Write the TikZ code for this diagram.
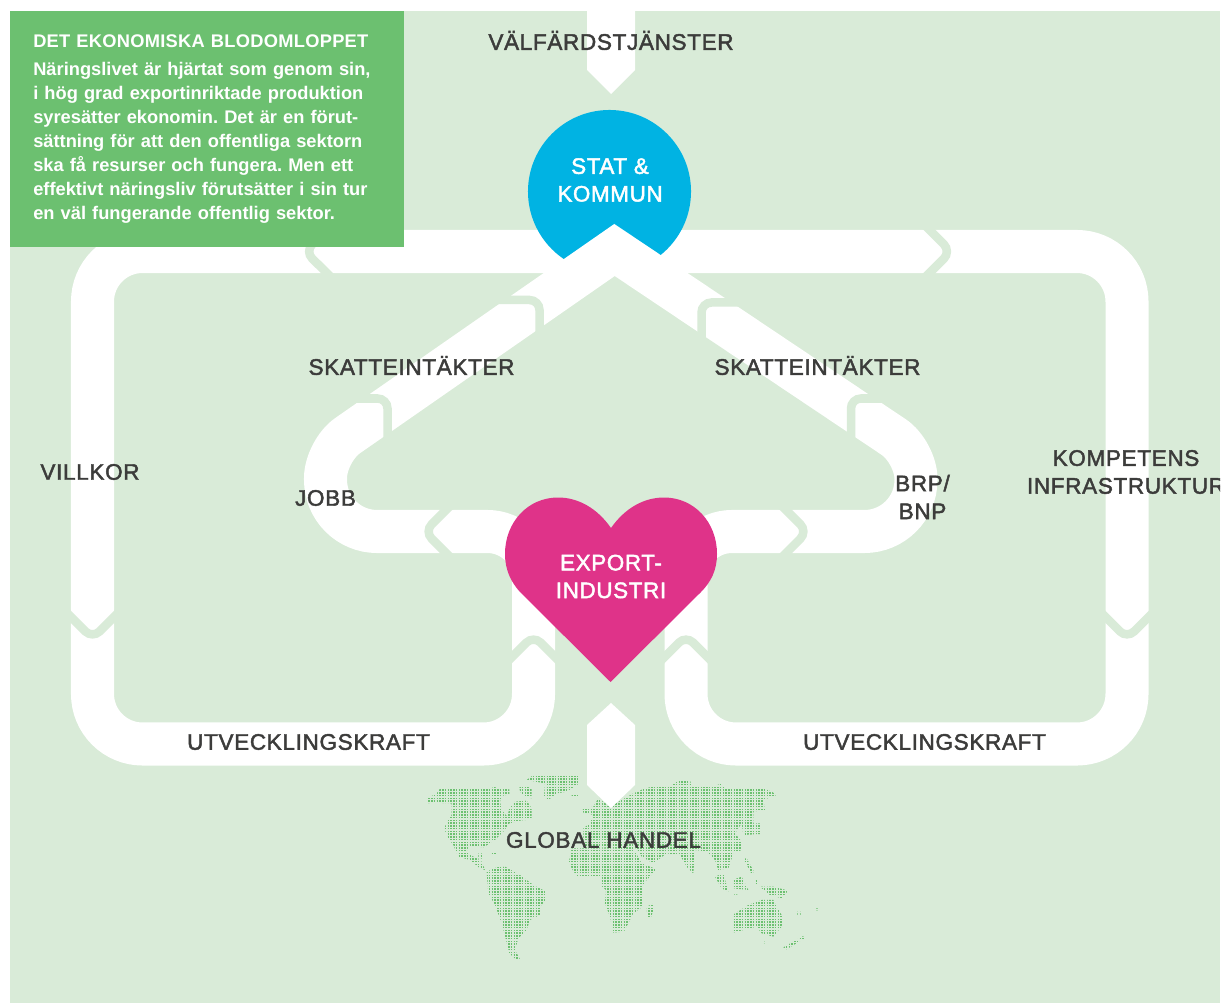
\documentclass[tikz,border=0pt]{standalone}
\usepackage{fontspec}
\setmainfont{Liberation Sans}
\newfontfamily\labelfont[FakeBold=2,LetterSpace=3]{Liberation Sans}
\newfontfamily\titlefont[LetterSpace=1.5]{Liberation Sans}
\definecolor{paleback}{HTML}{D9EBD8}
\definecolor{boxgreen}{HTML}{6CC070}
\definecolor{statblue}{HTML}{00B3E3}
\definecolor{heartpink}{HTML}{DF3389}
\definecolor{labelgray}{HTML}{3C3C3B}
\tikzset{
  band/.style={draw=white,line width=1.075cm,line join=miter},
  gap/.style={draw=paleback,line width=0.2125cm,rounded corners=0.25cm},
  tip/.style={fill=white},
  flowlabel/.style={text=labelgray,font=\labelfont\fontsize{16}{19.8}\selectfont,align=center,inner sep=0pt},
  hublabel/.style={text=white,font=\labelfont\fontsize{15.9}{19.7}\selectfont,align=center,inner sep=0pt},
  infobox/.style={fill=boxgreen,text=white,font=\bfseries\fontsize{13}{17.07}\selectfont,align=left,
    text width=8.7cm,inner xsep=0.575cm,inner ysep=0pt,minimum height=5.9cm},
  mapdots/.style={draw=boxgreen,line width=0.0375cm,dash pattern=on 0.0375cm off 0.03125cm}
}
\begin{document}
\frenchspacing
\begin{tikzpicture}[x=0.025cm,y=-0.025cm]
    \useasboundingbox (0,0) rectangle (1228,1003) ;
    \fill [white] (0,0) rectangle (1228,1003) ;
    \fill [paleback] (10,11) rectangle (1220,1003) ;
    % world map
    \begin{scope}
      \clip [shift={(420,760)},scale=0.3333]
        (22,115) -- (50,100) -- (60,86) -- (215,86) -- (222,78) -- (230,85) -- (268,88) -- (268,103) -- (245,108) -- (240,125) -- (245,150) -- (262,170) -- (268,145) -- (285,125) -- (320,122) -- (335,145) -- (335,178) -- (300,182) -- (268,190) -- (250,215) -- (225,240) -- (210,250) -- (190,262) -- (150,258) -- (140,270) -- (150,285) -- (170,295) -- (185,305) -- (195,330) -- (180,325) -- (150,300) -- (115,290) -- (100,255) -- (85,235) -- (72,205) -- (85,180) -- (95,165) -- (95,130) -- (40,128) -- (22,130) -- cycle
        (320,60) -- (340,45) -- (478,42) -- (478,70) -- (440,95) -- (410,100) -- (385,120) -- (372,112) -- (375,70) -- (330,62) -- cycle
        (298,78) -- (320,78) -- (335,88) -- (335,115) -- (315,110) -- (300,95) -- cycle
        (455,103) -- (478,103) -- (478,108) -- (455,108) -- cycle
        (212,278) -- (230,278) -- (230,283) -- (212,283) -- cycle
        (175,280) -- (188,280) -- (188,296) -- (175,296) -- cycle
        (200,335) -- (230,322) -- (255,320) -- (300,345) -- (340,375) -- (378,395) -- (378,420) -- (360,440) -- (360,465) -- (330,480) -- (320,510) -- (295,535) -- (285,570) -- (300,598) -- (290,600) -- (268,580) -- (258,540) -- (245,490) -- (225,435) -- (205,400) -- cycle
        (447,305) -- (455,265) -- (640,265) -- (665,310) -- (710,328) -- (680,360) -- (668,380) -- (668,440) -- (640,460) -- (612,515) -- (580,518) -- (570,470) -- (555,430) -- (558,390) -- (545,378) -- (545,350) -- (470,348) -- (455,325) -- cycle
        (488,145) -- (520,140) -- (535,115) -- (570,140) -- (640,100) -- (675,85) -- (710,78) -- (750,78) -- (780,60) -- (810,60) -- (815,80) -- (880,80) -- (905,70) -- (915,85) -- (1030,85) -- (1055,95) -- (1070,105) -- (1030,120) -- (1035,150) -- (1000,155) -- (1000,190) -- (1020,190) -- (1020,222) -- (970,225) -- (965,190) -- (945,220) -- (965,245) -- (965,270) -- (940,280) -- (925,325) -- (895,330) -- (885,300) -- (860,275) -- (825,270) -- (820,340) -- (800,320) -- (780,285) -- (740,280) -- (700,310) -- (665,290) -- (650,265) -- (490,262) -- (490,205) -- (510,190) -- (520,165) -- (490,158) -- cycle
        (885,350) -- (910,340) -- (925,395) -- (905,385) -- cycle
        (938,360) -- (965,350) -- (985,390) -- (940,385) -- cycle
        (1005,360) -- (1012,360) -- (1012,375) -- (1005,375) -- cycle
        (970,295) -- (980,295) -- (1002,335) -- (995,342) -- cycle
        (1020,380) -- (1060,380) -- (1105,392) -- (1085,415) -- (1050,405) -- cycle
        (940,403) -- (952,403) -- (952,408) -- (940,408) -- cycle
        (938,465) -- (985,435) -- (1025,420) -- (1060,420) -- (1070,440) -- (1088,470) -- (1085,500) -- (1060,530) -- (1025,520) -- (1010,500) -- (940,518) -- cycle
        (680,440) -- (702,430) -- (700,450) -- (692,475) -- (682,475) -- cycle
        (1090,562) -- (1150,528) -- (1152,536) -- (1100,568) -- cycle
        (1132,455) -- (1142,455) -- (1142,468) -- (1132,468) -- cycle
        (1187,445) -- (1194,445) -- (1194,451) -- (1187,451) -- cycle
        (1030,545) -- (1037,545) -- (1037,550) -- (1030,550) -- cycle ;
      \foreach \y in {773.5,776.25,...,961} {
        \draw [mapdots] (420,\y) -- (830,\y) ;
      }
    \end{scope}
    % arrows in and out at the page ends
    \fill [tip] (587,0) -- (635,0) -- (635,70) -- (611,94) -- (587,70) -- cycle ;
    \fill [tip] (611,703) -- (635,725) -- (635,785) -- (611,808) -- (587,785) -- (587,725) -- cycle ;
    % white flows
    \draw [band,rounded corners=1.25cm] (533.5,600) -- (533.5,744) -- (92.5,744) -- (92.5,251.5) -- (1127,251.5) -- (1127,744) -- (686,744) -- (686,600) ;
    \node [circle,fill=statblue,minimum size=4.075cm,inner sep=0pt] (stat) at (609.5,191.5) {} ;
    \draw [band] (533.5,600) [rounded corners=1.15cm] -- (533.5,531.5) [rounded corners=1.29cm] -- (325.5,531.5) [rounded corners=0.675cm] -- (325.5,451) [sharp corners] -- (614.5,250) [rounded corners=0.675cm] -- (916,452) [rounded corners=1.29cm] -- (916,531.5) [rounded corners=1.15cm] -- (686,531.5) -- (686,600) ;
    % gaps that make the arrowheads
    \draw [gap] (66,612) -- (92.5,638.5) -- (119,612) ;
    \draw [gap] (1100.5,612) -- (1127,638.5) -- (1153.5,612) ;
    \draw [gap] (507,662) -- (533.5,635.5) -- (560,662) ;
    \draw [gap] (659.5,662) -- (686,635.5) -- (712.5,662) ;
    \draw [gap] (332,278) -- (305,251.5) -- (332,225) ;
    \draw [gap] (924.5,278) -- (951,251.5) -- (924.5,225) ;
    \draw [gap] (451,558) -- (424.5,531.5) -- (451,505) ;
    \draw [gap] (781,558) -- (807.5,531.5) -- (781,505) ;
    \draw [gap] (490,300) -- (539.5,300) -- (539.5,338) ;
    \draw [gap] (350,398.5) -- (387.5,398.5) -- (387.5,445) ;
    \draw [gap] (740,302.5) -- (701.5,302.5) -- (701.5,342) ;
    \draw [gap] (890,398.5) -- (851,398.5) -- (851,445) ;
    % heart
    \fill [heartpink] (611,528) .. controls (597,508) and (578,497.5) .. (558,497.5) .. controls (528,497.5) and (505,522) .. (505,554) .. controls (505,570) and (511,582) .. (520,592) -- (610.5,682) -- (701,592) .. controls (711,582) and (717,570) .. (717,554) .. controls (717,522) and (694,497.5) .. (664,497.5) .. controls (644,497.5) and (625,508) .. (611,528) -- cycle ;
    % text box
    \node [infobox,anchor=north west] (info) at (10,11) {{\titlefont\bfseries DET EKONOMISKA BLODOMLOPPET}\\[0.1cm]
      Näringslivet är hjärtat som genom sin,\\
      i hög grad exportinriktade produktion\\
      syresätter ekonomin. Det är en förut-\\
      sättning för att den offentliga sektorn\\
      ska få resurser och fungera. Men ett\\
      effektivt näringsliv förutsätter i sin tur\\
      en väl fungerande offentlig sektor.} ;
    % labels
    \node [hublabel] (statlabel) at (610,180) {STAT \&\\KOMMUN} ;
    \node [hublabel] (exportlabel) at (611,576.5) {EXPORT-\\INDUSTRI} ;
    \node [flowlabel] (valfard) at (611,40.5) {VÄLFÄRDSTJÄNSTER} ;
    \node [flowlabel] (skattvast) at (411.5,365.5) {SKATTEINTÄKTER} ;
    \node [flowlabel] (skattost) at (817.5,365.5) {SKATTEINTÄKTER} ;
    \node [flowlabel] (villkor) at (90,472) {VILLKOR} ;
    \node [flowlabel] (jobb) at (325.5,498) {JOBB} ;
    \node [flowlabel] (brp) at (922.5,497) {BRP/\\BNP} ;
    \node [flowlabel] (utvvast) at (308.5,742) {UTVECKLINGSKRAFT} ;
    \node [flowlabel] (utvost) at (924.5,742) {UTVECKLINGSKRAFT} ;
    \node [flowlabel] (handel) at (603.5,840) {GLOBAL HANDEL} ;
    \begin{scope}
      \clip (10,11) rectangle (1220,1003) ;
      \node [flowlabel] (kompetens) at (1126,472) {KOMPETENS\\INFRASTRUKTUR} ;
    \end{scope}
\end{tikzpicture}
\end{document}
